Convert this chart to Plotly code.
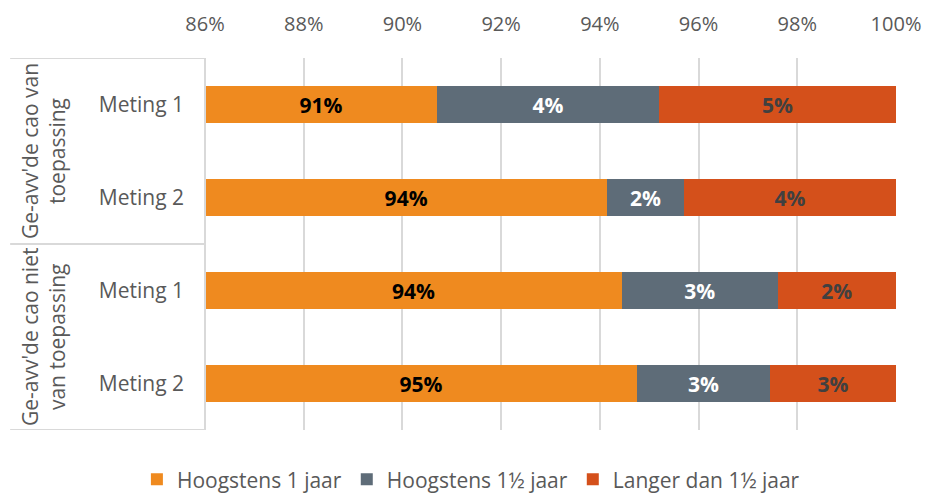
import plotly.graph_objects as go

# data (percentages)
metingen = ['Meting 1', 'Meting 2', 'Meting 1', 'Meting 2']
groepen = ["Ge-avv'de cao van<br>toepassing", "Ge-avv'de cao niet<br>van toepassing"]
hoogstens_1 = [90.7, 94.15, 94.45, 94.75]
hoogstens_1_5 = [4.5, 1.55, 3.15, 2.7]
langer = [4.8, 4.3, 2.4, 2.55]
series_names = ['Hoogstens 1 jaar', 'Hoogstens 1½ jaar', 'Langer dan 1½ jaar']
colors = ['#EF8A1F', '#5E6C78', '#D4501B']
label_colors = ['#000000', '#FFFFFF', '#404040']
x_start = 86
tick_vals = [86, 88, 90, 92, 94, 96, 98, 100]

rows = list(range(len(metingen)))
font = 'Open Sans, Arial, sans-serif'
grey_text = '#595959'
line_grey = '#D9D9D9'

fig = go.Figure()
base = [x_start] * len(rows)
for name, vals, col, lcol in zip(series_names, [hoogstens_1, hoogstens_1_5, langer], colors, label_colors):
    if name == series_names[0]:
        widths = [v - x_start for v in vals]
    else:
        widths = vals
    fig.add_trace(go.Bar(
        y=rows, x=widths, base=base, orientation='h', name=name,
        marker=dict(color=col, line=dict(width=0)),
        text=[f"{round(v)}%" for v in vals],
        textposition='inside', insidetextanchor='middle', textangle=0,
        textfont=dict(family=font, size=21, color=lcol, weight='bold'),
        constraintext='none',
    ))
    base = [b + w for b, w in zip(base, widths)]

# group labels on the left
for i, g in enumerate(groepen):
    fig.add_annotation(
        text=g, x=0, xref='paper', xshift=-162, y=2 * i + 0.5, yref='y',
        textangle=-90, showarrow=False, xanchor='center', yanchor='middle',
        font=dict(family=font, size=21, color=grey_text), align='center',
    )

# lines of the category table
box_left = -0.282
for yv in [-0.5, 1.5, 3.5]:
    fig.add_shape(type='line', xref='paper', yref='y', x0=box_left, x1=0, y0=yv, y1=yv,
                  line=dict(color=line_grey, width=2))
fig.add_shape(type='line', xref='paper', yref='paper', x0=0, x1=0, y0=0, y1=1,
              line=dict(color=line_grey, width=2))

fig.update_layout(
    width=925, height=493,
    margin=dict(l=205, r=29, t=58, b=63),
    barmode='stack', bargap=0.61,
    plot_bgcolor='white', paper_bgcolor='white',
    font=dict(family=font, color=grey_text),
    xaxis=dict(range=[x_start, 100], side='top', tickvals=tick_vals,
               ticktext=[f"{t}%" for t in tick_vals],
               showgrid=True, gridcolor=line_grey, gridwidth=2,
               zeroline=False, showline=False, ticks='', ticklabelstandoff=22,
               automargin=False,
               tickfont=dict(family=font, size=20, color=grey_text)),
    yaxis=dict(range=[3.5, -0.5], tickvals=rows, ticktext=metingen,
               showgrid=False, zeroline=False, showline=False, ticks='',
               ticklabelstandoff=20, automargin=False,
               tickfont=dict(family=font, size=21, color=grey_text)),
    legend=dict(orientation='h', xref='container', yref='container',
                x=0.148, xanchor='left', y=0.027, yanchor='middle',
                font=dict(family=font, size=21, color=grey_text),
                traceorder='normal'),
    showlegend=True,
)

# drop the default page margin and scrollbars so the figure fills the window
fig.write_html("out.html", config={'displayModeBar': False},
               post_script="document.body.style.margin='0';document.body.style.overflow='hidden';")
